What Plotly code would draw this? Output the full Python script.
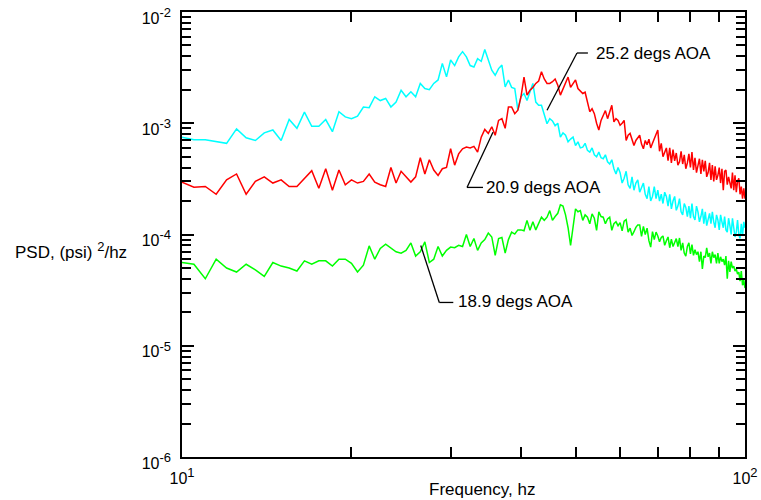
import math
import plotly.graph_objects as go

# Frequency grid, Hz
FREQ_HZ = [
    10.0, 10.5, 11.0, 11.5, 12.0, 12.5, 13.0, 13.5, 14.0, 14.5,
    15.0, 15.5, 16.0, 16.5, 17.0, 17.5, 18.0, 18.5, 19.0, 19.5,
    20.0, 20.5, 21.0, 21.5, 22.0, 22.5, 23.0, 23.5, 24.0, 24.5,
    25.0, 25.5, 26.0, 26.5, 27.0, 27.5, 28.0, 28.5, 29.0, 29.5,
    30.0, 30.5, 31.0, 31.5, 32.0, 32.5, 33.0, 33.5, 34.0, 34.5,
    35.0, 35.5, 36.0, 36.5, 37.0, 37.5, 38.0, 38.5, 39.0, 39.5,
    40.0, 40.5, 41.0, 41.5, 42.0, 42.5, 43.0, 43.5, 44.0, 44.5,
    45.0, 45.5, 46.0, 46.5, 47.0, 47.5, 48.0, 48.5, 49.0, 49.5,
    50.0, 50.5, 51.0, 51.5, 52.0, 52.5, 53.0, 53.5, 54.0, 54.5,
    55.0, 55.5, 56.0, 56.5, 57.0, 57.5, 58.0, 58.5, 59.0, 59.5,
    60.0, 60.5, 61.0, 61.5, 62.0, 62.5, 63.0, 63.5, 64.0, 64.5,
    65.0, 65.5, 66.0, 66.5, 67.0, 67.5, 68.0, 68.5, 69.0, 69.5,
    70.0, 70.5, 71.0, 71.5, 72.0, 72.5, 73.0, 73.5, 74.0, 74.5,
    75.0, 75.5, 76.0, 76.5, 77.0, 77.5, 78.0, 78.5, 79.0, 79.5,
    80.0, 80.5, 81.0, 81.5, 82.0, 82.5, 83.0, 83.5, 84.0, 84.5,
    85.0, 85.5, 86.0, 86.5, 87.0, 87.5, 88.0, 88.5, 89.0, 89.5,
    90.0, 90.5, 91.0, 91.5, 92.0, 92.5, 93.0, 93.5, 94.0, 94.5,
    95.0, 95.5, 96.0, 96.5, 97.0, 97.5, 98.0, 98.5, 99.0, 99.5,
    100.0,
]

# PSD values in units of 1e-4 (psi)^2/hz
PSD_UNIT = 1e-4

PSD_25_2_DEG = [  # cyan
    7.5, 7.1, 7.1, 6.8, 6.6, 8.9, 7.4, 7.0, 8.2, 8.7,
    7.0, 10.8, 9.0, 12.6, 9.4, 9.4, 10.8, 8.4, 12.7, 11.4,
    11.0, 11.6, 14.0, 13.8, 17.3, 16.0, 16.7, 14.0, 15.5, 19.8,
    17.3, 19.2, 17.3, 22.8, 20.5, 20.0, 22.8, 24.5, 34.5, 26.1,
    37.0, 33.0, 39.5, 44.0, 39.5, 33.0, 32.0, 38.0, 36.0, 46.0,
    37.0, 30.0, 27.0, 31.0, 33.3, 21.2, 24.5, 21.0, 20.5, 13.1,
    17.3, 18.5, 16.0, 19.0, 22.8, 15.5, 14.5, 14.5, 12.2, 9.9,
    11.0, 10.5, 9.5, 10.0, 7.5, 8.2, 7.8, 6.8, 7.2, 7.5,
    6.3, 6.8, 6.0, 6.1, 6.6, 5.7, 5.5, 6.0, 5.2, 5.0,
    5.5, 4.9, 4.8, 5.2, 4.5, 4.3, 4.7, 3.9, 3.5, 4.0,
    3.6, 2.9, 3.2, 3.7, 2.8, 2.6, 3.3, 2.5, 2.9, 3.1,
    2.4, 2.6, 2.9, 2.3, 2.1, 2.7, 2.0, 2.2, 2.7, 2.1,
    2.5, 2.0, 2.3, 1.9, 2.4, 2.2, 1.8, 2.3, 1.7, 2.0,
    2.2, 1.65, 1.8, 2.1, 1.6, 1.5, 1.9, 1.75, 1.45, 1.8,
    1.4, 1.9, 1.45, 1.35, 1.8, 1.6, 1.3, 1.45, 1.7, 1.25,
    1.6, 1.2, 1.35, 1.55, 1.25, 1.6, 1.3, 1.15, 1.5, 1.35,
    1.1, 1.5, 1.3, 1.15, 1.45, 1.1, 1.05, 1.4, 1.2, 1.0,
    1.4, 1.2, 0.95, 1.05, 1.35, 1.0, 0.92, 1.25, 0.97, 1.3,
    1.15,
]

PSD_20_9_DEG = [  # red
    2.96, 2.66, 2.7, 2.3, 3.1, 3.5, 2.3, 3.0, 3.3, 2.9,
    3.1, 2.7, 2.7, 3.2, 3.75, 2.6, 3.9, 2.5, 3.8, 2.8,
    3.1, 2.9, 3.0, 3.5, 2.96, 2.8, 2.7, 4.0, 2.9, 3.7,
    3.3, 2.96, 3.3, 4.9, 3.5, 4.7, 3.8, 3.4, 3.9, 4.0,
    5.9, 4.2, 5.3, 5.9, 6.1, 6.0, 6.2, 5.5, 7.5, 8.8,
    8.1, 9.3, 7.8, 10.6, 11.0, 9.0, 14.0, 14.0, 12.2, 13.1,
    17.3, 26.0, 17.9, 19.8, 21.0, 22.8, 24.0, 29.0, 25.0, 22.8,
    22.8, 23.6, 25.0, 22.0, 17.9, 20.5, 22.8, 26.0, 21.0, 23.0,
    24.5, 20.5, 19.5, 18.5, 19.0, 15.0, 12.7, 13.5, 12.2, 10.0,
    8.7, 10.6, 12.0, 13.0, 11.0, 12.5, 14.5, 10.3, 11.0, 10.6,
    9.6, 10.0, 10.6, 7.0, 7.8, 8.1, 7.0, 6.3, 7.0, 7.5,
    7.8, 6.5, 5.9, 7.0, 6.4, 7.2, 6.0, 6.6, 7.2, 7.8,
    8.7, 5.6, 6.6, 5.0, 5.4, 6.0, 4.6, 6.0, 4.4, 5.8,
    4.6, 5.4, 4.2, 4.5, 5.6, 4.3, 5.2, 3.9, 4.4, 5.3,
    4.0, 5.5, 3.8, 4.9, 3.6, 4.2, 4.8, 3.5, 4.7, 3.7,
    4.6, 3.3, 3.6, 4.4, 3.1, 4.2, 3.0, 4.1, 3.1, 3.4,
    4.0, 2.9, 3.9, 2.5, 3.7, 3.8, 2.8, 3.3, 2.9, 2.6,
    3.6, 2.5, 3.4, 2.4, 3.0, 3.2, 2.3, 2.7, 2.1, 2.6,
    2.1,
]

PSD_18_9_DEG = [  # green
    0.56, 0.54, 0.40, 0.60, 0.50, 0.46, 0.54, 0.48, 0.42, 0.56,
    0.52, 0.50, 0.47, 0.58, 0.54, 0.58, 0.58, 0.52, 0.60, 0.60,
    0.55, 0.46, 0.53, 0.79, 0.60, 0.75, 0.82, 0.76, 0.70, 0.68,
    0.72, 0.84, 0.64, 0.70, 0.86, 0.56, 0.60, 0.78, 0.64, 0.72,
    0.77, 0.76, 0.80, 0.78, 1.00, 0.78, 0.92, 0.72, 0.84, 0.90,
    1.03, 0.95, 0.65, 0.92, 0.94, 0.68, 0.90, 1.05, 1.01, 1.10,
    1.10, 1.08, 1.34, 1.09, 1.30, 1.10, 1.25, 1.43, 1.34, 1.43,
    1.64, 1.34, 1.45, 1.55, 1.85, 1.80, 1.50, 1.15, 0.80, 1.17,
    1.70, 1.60, 1.64, 1.34, 1.50, 1.43, 1.25, 1.53, 1.40, 1.09,
    1.60, 1.45, 1.43, 1.25, 1.38, 1.43, 1.09, 1.25, 1.30, 1.20,
    1.28, 1.08, 1.32, 1.36, 1.05, 1.14, 0.98, 1.06, 1.16, 1.22,
    1.22, 0.96, 1.18, 1.00, 1.14, 0.88, 0.77, 1.06, 0.90, 1.05,
    0.97, 0.86, 0.94, 0.97, 0.80, 0.88, 0.95, 0.76, 0.91, 0.78,
    0.86, 0.92, 0.78, 0.93, 0.72, 0.84, 0.68, 0.64, 0.78, 0.84,
    0.67, 0.81, 0.65, 0.73, 0.66, 0.70, 0.57, 0.70, 0.49, 0.64,
    0.62, 0.76, 0.63, 0.68, 0.55, 0.70, 0.62, 0.66, 0.55, 0.68,
    0.55, 0.63, 0.57, 0.60, 0.53, 0.64, 0.40, 0.58, 0.46, 0.57,
    0.50, 0.52, 0.47, 0.49, 0.44, 0.46, 0.38, 0.47, 0.35, 0.39,
    0.33,
]

SERIES_COLORS = ["#00FFFF", "#FF0000", "#00FF00"]
SERIES_NAMES = ["25.2 degs AOA", "20.9 degs AOA", "18.9 degs AOA"]

SUP = '<sup><span style="font-size:13px">{}</span></sup>'
X_TICKS = [10, 100]
X_TICK_TEXT = ["10" + SUP.format("1"), "10" + SUP.format("2")]
X_MINOR = [20, 30, 40, 50, 60, 70, 80, 90]
Y_TICKS = [1e-6, 1e-5, 1e-4, 1e-3, 1e-2]
Y_TICK_TEXT = ["10" + SUP.format(e) for e in ("-6", "-5", "-4", "-3", "-2")]
Y_MINOR = [m * d for d in (1e-6, 1e-5, 1e-4, 1e-3) for m in range(2, 10)]

# Leader-label anchors (Hz, PSD): text start, then leader polyline ending at the curve
LABELS = [
    ("25.2 degs AOA", 53.9, 4.28e-3, [(52.6, 4.28e-3), (50.3, 4.28e-3), (44.5, 1.31e-3)]),
    ("20.9 degs AOA", 34.4, 2.65e-4, [(34.25, 2.65e-4), (32.08, 2.65e-4), (35.67, 8.3e-4)]),
    ("18.9 degs AOA", 30.67, 2.50e-5, [(30.33, 2.45e-5), (28.64, 2.45e-5), (26.55, 7.96e-5)]),
]

assert len(FREQ_HZ) == len(PSD_25_2_DEG) == len(PSD_20_9_DEG) == len(PSD_18_9_DEG)

FONT = "Liberation Sans, Arial, sans-serif"

fig = go.Figure()
for vals, color, name in zip([PSD_25_2_DEG, PSD_20_9_DEG, PSD_18_9_DEG], SERIES_COLORS, SERIES_NAMES):
    fig.add_trace(go.Scatter(
        x=FREQ_HZ, y=[v * PSD_UNIT for v in vals], mode="lines", name=name,
        line=dict(color=color, width=1.5), showlegend=False,
    ))

annotations = []
shapes = []
for text, tx, ty, pts in LABELS:
    annotations.append(dict(
        x=math.log10(tx), y=math.log10(ty), xref="x", yref="y", text=text,
        showarrow=False, xanchor="left", yanchor="middle",
        font=dict(family=FONT, size=17, color="black"),
    ))
    for (x0, y0), (x1, y1) in zip(pts[:-1], pts[1:]):
        shapes.append(dict(type="line", xref="x", yref="y", x0=x0, y0=y0, x1=x1, y1=y1,
                           line=dict(color="black", width=1.3)))

annotations.append(dict(
    x=-0.300, y=0.465, xref="paper", yref="paper", text="PSD, (psi) " + SUP.format("2") + "/hz",
    showarrow=False, xanchor="left", yanchor="middle",
    font=dict(family=FONT, size=17, color="black"),
))
annotations.append(dict(
    x=0.533, y=-0.074, xref="paper", yref="paper", text="Frequency, hz",
    showarrow=False, xanchor="center", yanchor="middle",
    font=dict(family=FONT, size=17, color="black"),
))

axis_common = dict(
    type="log", showgrid=False, zeroline=False, showline=True, linecolor="black",
    linewidth=1.5, ticks="inside", tickwidth=1.5, tickcolor="black",
    mirror="allticks", tickfont=dict(family=FONT, size=16, color="black"),
    tickmode="array", automargin=False,
)

fig.update_layout(
    width=761, height=500,
    margin=dict(l=182, r=16, t=12, b=43),
    paper_bgcolor="white", plot_bgcolor="white",
    annotations=annotations, shapes=shapes,
    xaxis=dict(axis_common, range=[1, 2], tickvals=X_TICKS, ticktext=X_TICK_TEXT,
               ticklen=11, ticklabelstandoff=6,
               minor=dict(tickmode="array", tickvals=X_MINOR, ticks="inside", ticklen=10,
                          tickwidth=1.5, tickcolor="black")),
    yaxis=dict(axis_common, range=[-6, -2], tickvals=Y_TICKS, ticktext=Y_TICK_TEXT,
               ticklen=12, ticklabelstandoff=6, ticklabelshift=6,
               minor=dict(tickmode="array", tickvals=Y_MINOR, ticks="inside", ticklen=9,
                          tickwidth=1.5, tickcolor="black")),
)

# Remove the browser's default 8px body margin so the 761x500 figure fills the window.
fig.write_html("out.html", config={"displayModeBar": False},
               post_script="document.body.style.margin='0';")
